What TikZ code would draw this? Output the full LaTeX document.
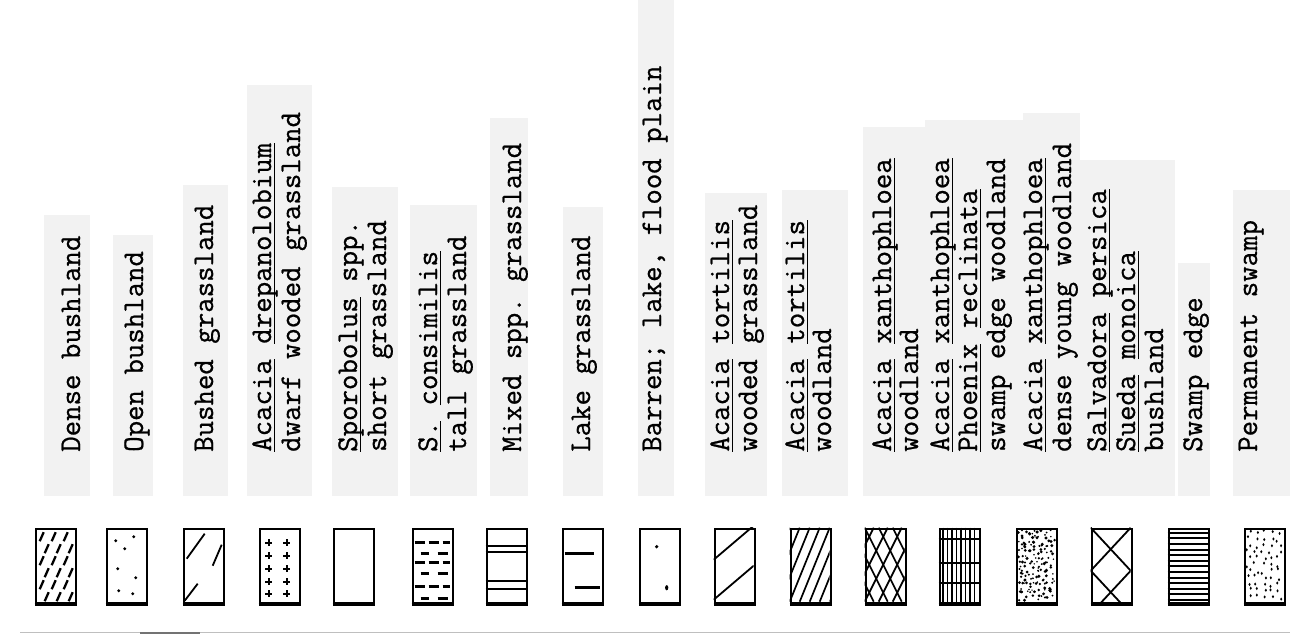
\documentclass[tikz,border=0pt]{standalone}
\usepackage{fontspec}
\setmonofont{Latin Modern Mono}[FakeBold=0.7]
\newcommand{\spname}[1]{\setbox0\hbox{#1}\rlap{\vrule height -2.5pt depth 4pt width\wd0}\box0\relax}
\tikzset{
  lab/.style={rotate=90, anchor=base west, inner sep=0pt,
    font=\fontsize{30}{29}\selectfont\ttfamily},
  paper/.style={fill=black!5},
  legbox/.style={draw, line width=2.6pt, minimum width=40pt, minimum height=74pt, inner sep=0pt},
  hatch/.style={line width=1.8pt},
}
\begin{document}
\begin{tikzpicture}[x=1pt, y=-1pt]
    \useasboundingbox (0,0) rectangle (1303,640);
    % pasted-up label strips
    \foreach \xa/\xb/\top in {44/90/215, 113/153/235, 183/228/185, 247/312/85,
        332/398/187, 410/477/205, 490/528/118, 563/603/207, 638/674/0, 705/767/193,
        782/848/190, 863/925/127, 925/1023/120, 1023/1080/113, 1080/1175/160,
        1178/1210/263, 1233/1290/190}
      \fill[paper] (\xa,\top) rectangle (\xb,496);
    \draw[black!25, line width=0.8pt] (20,632) -- (1290,632);
    \draw[black!55, line width=1.2pt] (140,633) -- (200,633);

    % labels
    \node[lab] (l1) at (80,452) {Dense bushland};
    \node[lab] (l2) at (143,452) {Open bushland};
    \node[lab] (l3) at (213,452) {Bushed grassland};
    \node[lab] (l4a) at (271,452) {\spname{Acacia} \spname{drepanolobium}};
    \node[lab] (l4b) at (300,452) {dwarf wooded grassland};
    \node[lab] (l5a) at (357,452) {\spname{Sporobolus} spp.};
    \node[lab] (l5b) at (386,452) {short grassland};
    \node[lab] (l6a) at (437,452) {\spname{S.} \spname{consimilis}};
    \node[lab] (l6b) at (466,452) {tall grassland};
    \node[lab] (l7) at (521,452) {Mixed spp. grassland};
    \node[lab] (l8) at (590,452) {Lake grassland};
    \node[lab] (l9) at (661,452) {Barren; lake, flood plain};
    \node[lab] (l10a) at (729,452) {\spname{Acacia} \spname{tortilis}};
    \node[lab] (l10b) at (757,452) {wooded grassland};
    \node[lab] (l11a) at (804,452) {\spname{Acacia} \spname{tortilis}};
    \node[lab] (l11b) at (831,452) {woodland};
    \node[lab] (l12a) at (891,452) {\spname{Acacia} \spname{xanthophloea}};
    \node[lab] (l12b) at (918,452) {woodland};
    \node[lab] (l13a) at (949,452) {\spname{Acacia} \spname{xanthophloea}};
    \node[lab] (l13b) at (977,452) {\spname{Phoenix} \spname{reclinata}};
    \node[lab] (l13c) at (1005,452) {swamp edge woodland};
    \node[lab] (l14a) at (1042,452) {\spname{Acacia} \spname{xanthophloea}};
    \node[lab] (l14b) at (1071,452) {dense young woodland};
    \node[lab] (l15a) at (1106,452) {\spname{Salvadora} \spname{persica}};
    \node[lab] (l15b) at (1135,452) {\spname{Sueda} \spname{monoica}};
    \node[lab] (l15c) at (1163,452) {bushland};
    \node[lab] (l16) at (1202,452) {Swamp edge};
    \node[lab] (l17) at (1257,452) {Permanent swamp};

    % legend boxes
    \foreach \n/\cx in {1/56, 2/127, 3/204, 4/280, 5/354, 6/433, 7/507, 8/583, 9/660,
        10/735, 11/811, 12/886, 13/960, 14/1037, 15/1112, 16/1189, 17/1265}{
      \node[legbox] (b\n) at (\cx,566) {};
      \draw[line width=3.6pt] (b\n.south west) -- (b\n.south east);
    }

    % dense bushland
    \begin{scope}[shift={(b1.north west)}]
      \clip (0,0) rectangle (40,74);
      \foreach \r/\o in {9/0,21/5,33/0,45/5,57/0,69/5}
        \foreach \c in {5,17,29}
          \draw[hatch, line width=2.3pt] (\c+\o,\r+4.5) -- (\c+\o+4,\r-4.5);
    \end{scope}
    % open bushland
    \begin{scope}[shift={(b2.north west)}]
      \foreach \p in {(10,13),(28,9),(19,21),(12,41),(30,50),(13,63),(27,66)}
        \fill \p circle (1.6pt);
    \end{scope}
    % bushed grassland
    \begin{scope}[shift={(b3.north west)}]
      \draw[hatch] (4,31) -- (22,6);
      \draw[hatch] (30,38) -- (39,17);
      \draw[hatch] (2,73) -- (15,56);
    \end{scope}
    % dwarf wooded grassland
    \begin{scope}[shift={(b4.north west)}]
      \foreach \r in {15,28,41,54,66}
        \foreach \c in {10,28}{
          \draw[line width=1.8pt] (\c-3.5,\r) -- (\c+3.5,\r);
          \draw[line width=1.8pt] (\c,\r-3.5) -- (\c,\r+3.5);
        }
    \end{scope}
    % tall grassland
    \begin{scope}[shift={(b6.north west)}]
      \foreach \r in {15,35,59}
        \foreach \a/\b in {3/13,17/27,31/38}
          \draw[line width=2.6pt] (\a,\r) -- (\b,\r);
      \foreach \r in {26,46,71}
        \foreach \a/\b in {9/17,26/36}
          \draw[line width=2.6pt] (\a,\r) -- (\b,\r);
    \end{scope}
    % mixed spp. grassland
    \begin{scope}[shift={(b7.north west)}]
      \foreach \r in {18,24,53,61}
        \draw[line width=2.4pt] (0,\r) -- (40,\r);
    \end{scope}
    % lake grassland
    \begin{scope}[shift={(b8.north west)}]
      \draw[line width=2.8pt] (3,26) -- (32,26);
      \draw[line width=2.8pt] (13,60) -- (38,60);
    \end{scope}
    % barren
    \begin{scope}[shift={(b9.north west)}]
      \fill (18,19) circle (1.8pt);
      \fill (28,60) ellipse (1.6pt and 2.6pt);
    \end{scope}
    % acacia tortilis wooded grassland
    \begin{scope}[shift={(b10.north west)}]
      \clip (0,0) rectangle (40,74);
      \foreach \c in {32,72}
        \draw[hatch] (0,\c) -- (40,\c-34);
    \end{scope}
    % acacia tortilis woodland
    \begin{scope}[shift={(b11.north west)}]
      \clip (0,0) rectangle (40,74);
      \foreach \c in {-30,-20,...,40}
        \draw[line width=1.7pt] (\c,74) -- (\c+30,0);
    \end{scope}
    % acacia xanthophloea woodland
    \begin{scope}[shift={(b12.north west)}]
      \clip (0,0) rectangle (40,74);
      \foreach \c in {-42,-28,...,42}{
        \draw[line width=1.7pt] (\c,74) -- (\c+37,0);
        \draw[line width=1.7pt] (\c,0) -- (\c+37,74);
      }
    \end{scope}
    % swamp edge woodland
    \begin{scope}[shift={(b13.north west)}]
      \foreach \c in {4.5,9,...,36}
        \draw[line width=1.5pt] (\c,0) -- (\c,74);
      \foreach \r in {11,35,55}
        \draw[line width=2.4pt] (0,\r) -- (40,\r);
    \end{scope}
    % dense young woodland
    \begin{scope}[shift={(b14.north west)}]
      \pgfmathsetseed{41}
      \foreach \i in {0,...,8}
        \foreach \j in {0,...,16}{
          \pgfmathsetmacro{\dx}{4+4*\i+3*rand}
          \pgfmathsetmacro{\dy}{4+4.1*\j+3*rand}
          \pgfmathsetmacro{\rr}{0.8+0.9*rnd}
          \fill (\dx,\dy) circle (\rr pt);
        }
    \end{scope}
    % salvadora / sueda bushland
    \begin{scope}[shift={(b15.north west)}]
      \clip (0,0) rectangle (40,74);
      \foreach \r in {0,43}{
        \draw[hatch] (0,\r) -- (40,\r+43);
        \draw[hatch] (40,\r) -- (0,\r+43);
      }
    \end{scope}
    % swamp edge
    \begin{scope}[shift={(b16.north west)}]
      \foreach \k in {0,...,12}
        \draw[line width=2pt] (0,5+5.6*\k) -- (40,5+5.6*\k);
    \end{scope}
    % permanent swamp
    \begin{scope}[shift={(b17.north west)}]
      \pgfmathsetseed{17}
      \foreach \i in {0,...,4}
        \foreach \j in {0,...,10}{
          \pgfmathsetmacro{\dx}{5+7.5*\i+2.5*rand}
          \pgfmathsetmacro{\dy}{5+6.4*\j+2.5*rand}
          \fill (\dx,\dy) ellipse (1.1pt and 1.6pt);
        }
    \end{scope}
\end{tikzpicture}
\end{document}
